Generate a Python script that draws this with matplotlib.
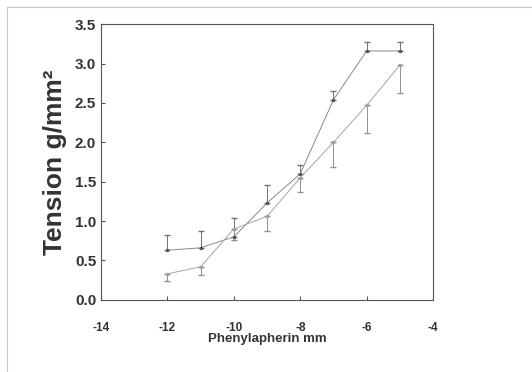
import numpy as np
import matplotlib.pyplot as plt
from matplotlib.lines import Line2D

# concentration (log M) on x
conc = [-12, -11, -10, -9, -8, -7, -6, -5]

# series A (filled markers, error bars upward)
tens_a = [0.63, 0.66, 0.80, 1.23, 1.60, 2.54, 3.16, 3.16]
err_a = [0.19, 0.22, 0.24, 0.23, 0.11, 0.11, 0.11, 0.11]

# series B (open markers, error bars downward)
tens_b = [0.33, 0.42, 0.90, 1.06, 1.55, 2.00, 2.47, 2.98]
err_b = [0.09, 0.10, 0.14, 0.19, 0.18, 0.31, 0.35, 0.35]

xticks = [-14, -12, -10, -8, -6, -4]
yticks = [0.0, 0.5, 1.0, 1.5, 2.0, 2.5, 3.0, 3.5]

plt.rcParams['font.family'] = ['Liberation Sans', 'DejaVu Sans']

fig = plt.figure(figsize=(5.32, 3.72), dpi=100)
ax = fig.add_axes([0.190, 0.194, 0.624, 0.741])

ax.errorbar(conc, tens_a, yerr=[np.zeros(len(err_a)), err_a], color="#8a8a8a",
            lw=0.7, marker='o', ms=1.5, mfc="#555555", mec="#555555",
            ecolor="#707070", elinewidth=0.7, capsize=2)
ax.errorbar(conc, tens_b, yerr=[err_b, np.zeros(len(err_b))], color="#a5a5a5",
            lw=0.7, marker='o', ms=1.5, mfc="white", mec="#999999",
            ecolor="#909090", elinewidth=0.7, capsize=2)

ax.set_xlim(-14, -4)
ax.set_ylim(0, 3.5)
ax.set_xticks(xticks)
ax.set_yticks(yticks)
ax.set_yticklabels([f"{v:.1f}" for v in yticks], fontsize=11, fontweight="bold", color="#333333")
ax.set_xticklabels([str(v) for v in xticks], fontsize=8.5, fontweight="bold", color="#333333")
ax.tick_params(direction="in", length=3, color="#555555", width=0.8)
ax.tick_params(axis="x", pad=16)
for s in ax.spines.values():
    s.set_color("#555555")
    s.set_linewidth(0.8)

ax.set_xlabel("Phenylapherin mm", fontsize=9.5, fontweight="bold", color="#333333", labelpad=-1)
ax.set_ylabel("Tension g/mm²", fontsize=19, fontweight="bold", color="#333333", labelpad=6)

# scanned page border
fig.add_artist(Line2D([7/532, 1], [1-7/372, 1-7/372], color="#c8c8c8", lw=0.8))
fig.add_artist(Line2D([7/532, 7/532], [0, 1-7/372], color="#c8c8c8", lw=0.8))

plt.savefig("out.png", dpi=100)
